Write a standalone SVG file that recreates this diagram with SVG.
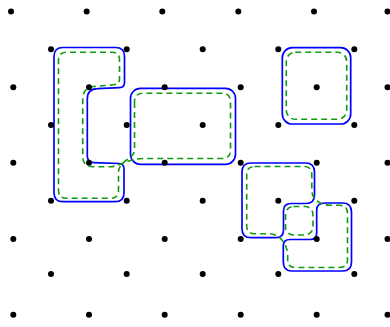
<svg xmlns="http://www.w3.org/2000/svg" width="390" height="327" viewBox="0 0 390 327">
<style>
.blue{fill:none;stroke:#0000ff;stroke-width:1.7;stroke-linejoin:round}
.green{fill:none;stroke:#109a10;stroke-width:1.6;stroke-dasharray:6,4}
.dot{fill:#000}
</style>
<rect width="390" height="327" fill="#fff"/>
<g id="regions">
<g id="regionA"><path class="blue" d="M63,47.5 H115.5 Q124.5,47.5 124.5,56.5 V82.5 Q124.5,87.5 119.5,87.6 L97.5,88.7 Q87.3,88.9 87.3,99 V156 Q87.3,162.5 94,162.7 L119,163.5 Q124,163.8 124,169 V192.7 Q124,201.7 115,201.7 H63 Q54,201.7 54,192.7 V56.5 Q54,47.5 63,47.5 Z"/></g>
<g id="regionB"><rect class="blue" x="130.5" y="88.3" width="105" height="76" rx="10"/></g>
<g id="regionC"><rect class="blue" x="282.3" y="47.7" width="68.4" height="76.3" rx="10"/></g>
<g id="regionD1"><path class="blue" d="M251,163 H305.5 Q314.5,163 314.5,172 V195 Q314.5,203.5 306,203.5 H291 Q283.5,203.5 283.5,211 V230 Q283.5,237.7 276,237.7 H251 Q242,237.7 242,228.7 V172 Q242,163 251,163 Z"/></g>
<g id="regionD2"><path class="blue" d="M325,203 H342.5 Q351.5,203 351.5,212 V262 Q351.5,271 342.5,271 H292 Q283.3,271 283.3,262 V246 Q283.3,239.5 290,239.5 H310 Q316.7,239.5 316.7,233 V210 Q316.7,203 325,203 Z"/></g>
</g>
<g id="curves">
<path class="green" d="M134.5,102 V151 C134.5,157 118.5,162 118.5,172 V190.5 Q118.5,198.3 110.5,198.3 H66.5 Q58.5,198.3 58.5,190.3 V60.3 Q58.5,52.3 66.5,52.3 H112 Q119.5,52.3 119.5,59.8 V79 Q119.5,84.5 113.5,84.8 L94,86.5 Q82.7,87.5 82.7,99 V156 Q82.7,166.5 93,166.7 H110 C120,166.5 128,158.5 143,158.5 H222 Q230.5,158.5 230.5,150 V101.8 Q230.5,93.3 222,93.3 H143 Q134.5,93.3 134.5,101.8 Z"/>
<rect class="green" x="286.3" y="52.3" width="60.4" height="67" rx="9"/>
<path class="green" d="M254.5,166.5 H304 Q311.8,166.5 311.8,174.3 V190 C311.8,198 318,205 330,205.3 H339.5 Q347.5,205.3 347.5,213.3 V259.5 Q347.5,267.5 339.5,267.5 H295.5 Q287.7,267.5 287.7,259.7 V256 C287.5,245 281,234.5 270,233.8 H254.5 Q246.7,233.5 246.7,225.7 V174.3 Q246.7,166.5 254.5,166.5 Z"/>
<rect class="green" x="285.5" y="206.5" width="27.5" height="28.5" rx="8"/>
</g>
<g id="dots" class="dot">
<circle cx="11" cy="11.5" r="3"/><circle cx="86.7" cy="11.5" r="3"/><circle cx="162.3" cy="11.5" r="3"/><circle cx="238.3" cy="11.5" r="3"/><circle cx="314" cy="11.5" r="3"/><circle cx="387.5" cy="11.5" r="3"/>
<circle cx="51" cy="49.3" r="3"/><circle cx="126.7" cy="49.3" r="3"/><circle cx="202.7" cy="49.3" r="3"/><circle cx="278.3" cy="49.3" r="3"/><circle cx="354.3" cy="49.3" r="3"/>
<circle cx="13.3" cy="87.3" r="3"/><circle cx="89" cy="87.3" r="3"/><circle cx="164.7" cy="87.3" r="3"/><circle cx="240.7" cy="87.3" r="3"/><circle cx="316.7" cy="87.3" r="3"/><circle cx="387.5" cy="87.3" r="3"/>
<circle cx="51" cy="125" r="3"/><circle cx="126.7" cy="125" r="3"/><circle cx="202.7" cy="125" r="3"/><circle cx="278.3" cy="125" r="3"/><circle cx="354.3" cy="125" r="3"/>
<circle cx="13.3" cy="162.7" r="3"/><circle cx="89" cy="162.7" r="3"/><circle cx="164.7" cy="162.7" r="3"/><circle cx="240.7" cy="162.7" r="3"/><circle cx="316.7" cy="162.7" r="3"/><circle cx="387.5" cy="162.7" r="3"/>
<circle cx="51" cy="200.7" r="3"/><circle cx="126.7" cy="200.7" r="3"/><circle cx="202.7" cy="200.7" r="3"/><circle cx="278.3" cy="200.7" r="3"/><circle cx="354.3" cy="200.7" r="3"/>
<circle cx="13.3" cy="239" r="3"/><circle cx="89" cy="239" r="3"/><circle cx="164.7" cy="239" r="3"/><circle cx="240.7" cy="239" r="3"/><circle cx="316.7" cy="239" r="3"/><circle cx="387.5" cy="239" r="3"/>
<circle cx="51" cy="274" r="3"/><circle cx="126.7" cy="274" r="3"/><circle cx="202.7" cy="274" r="3"/><circle cx="278.3" cy="274" r="3"/><circle cx="354.3" cy="274" r="3"/>
<circle cx="13.3" cy="314.7" r="3"/><circle cx="89" cy="314.7" r="3"/><circle cx="164.7" cy="314.7" r="3"/><circle cx="240.7" cy="314.7" r="3"/><circle cx="316.7" cy="314.7" r="3"/><circle cx="387.5" cy="314.7" r="3"/>
</g>
</svg>
